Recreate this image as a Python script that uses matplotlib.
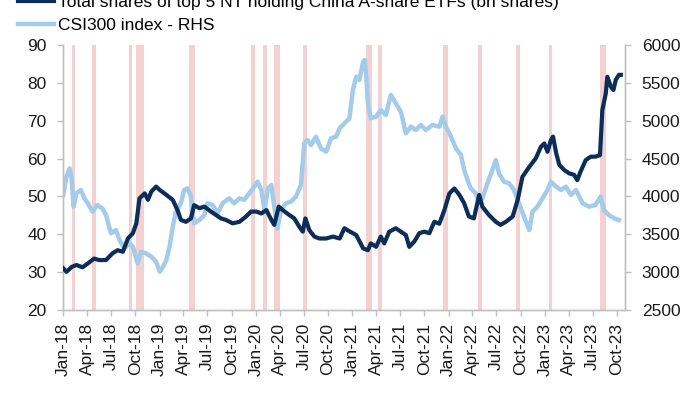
#!/usr/bin/env python3
"""NT-held China A-share ETF shares vs CSI300, with pink event bands."""

import pandas as pd
import matplotlib
matplotlib.use("Agg")
import matplotlib.pyplot as plt
import matplotlib.dates as mdates
from matplotlib.lines import Line2D

# --- data ---
shares_dates = [
    "2018-01-01", "2018-01-13", "2018-02-02", "2018-02-20", "2018-03-15", "2018-04-04",
    "2018-04-28", "2018-05-17", "2018-06-12", "2018-07-07", "2018-07-26", "2018-08-15",
    "2018-09-03", "2018-09-22", "2018-10-05", "2018-10-17", "2018-11-06", "2018-11-18",
    "2018-12-01", "2018-12-19", "2019-01-02", "2019-01-27", "2019-02-20", "2019-03-10",
    "2019-03-23", "2019-04-11", "2019-04-30", "2019-05-12", "2019-06-01", "2019-06-20",
    "2019-07-15", "2019-08-03", "2019-08-22", "2019-09-10", "2019-10-05", "2019-10-31",
    "2019-11-25", "2019-12-14", "2020-01-03", "2020-01-22", "2020-02-10", "2020-02-29",
    "2020-03-11", "2020-03-28", "2020-04-12", "2020-05-07", "2020-05-26", "2020-06-14",
    "2020-06-27", "2020-07-07", "2020-07-22", "2020-08-10", "2020-08-29", "2020-09-24",
    "2020-10-19", "2020-11-14", "2020-12-02", "2020-12-21", "2021-01-16", "2021-02-11",
    "2021-03-01", "2021-03-12", "2021-04-01", "2021-04-19", "2021-05-02", "2021-05-21",
    "2021-06-15", "2021-07-04", "2021-07-23", "2021-08-05", "2021-08-24", "2021-09-12",
    "2021-10-01", "2021-10-20", "2021-11-08", "2021-11-27", "2021-12-16", "2022-01-04",
    "2022-01-23", "2022-02-11", "2022-03-01", "2022-03-19", "2022-04-07", "2022-04-27",
    "2022-05-09", "2022-06-03", "2022-06-29", "2022-07-17", "2022-08-06", "2022-09-01",
    "2022-09-20", "2022-10-08", "2022-11-03", "2022-11-28", "2022-12-17", "2022-12-30",
    "2023-01-11", "2023-01-24", "2023-02-01", "2023-02-13", "2023-02-25", "2023-03-15",
    "2023-04-03", "2023-04-22", "2023-05-04", "2023-05-16", "2023-06-05", "2023-06-24",
    "2023-07-12", "2023-07-29", "2023-08-07", "2023-08-20", "2023-08-26", "2023-09-08",
    "2023-09-18", "2023-09-27", "2023-10-09", "2023-10-16",
]
shares_vals = [
    31.0, 30.1, 31.4, 31.9, 31.3, 32.3,
    33.6, 33.2, 33.2, 35.0, 35.8, 35.4,
    38.9, 40.3, 42.9, 49.5, 50.8, 49.1,
    51.3, 52.6, 51.7, 50.4, 49.1, 46.4,
    43.8, 43.3, 44.2, 47.7, 46.9, 47.3,
    46.0, 45.1, 44.2, 43.8, 42.9, 43.3,
    44.7, 46.0, 46.0, 45.5, 46.4, 43.8,
    42.5, 47.3, 46.4, 45.1, 44.2, 42.0,
    40.7, 44.2, 41.1, 39.4, 38.9, 38.9,
    39.4, 38.9, 41.6, 40.8, 39.8, 36.3,
    35.8, 37.6, 36.7, 39.4, 37.6, 40.7,
    41.6, 40.7, 39.8, 36.7, 38.1, 40.3,
    40.7, 40.3, 43.3, 42.8, 46.4, 50.8,
    52.1, 50.4, 48.2, 44.7, 44.2, 50.4,
    47.3, 45.1, 43.3, 42.5, 43.3, 44.7,
    49.1, 55.2, 57.8, 60.1, 63.1, 64.0,
    61.8, 64.9, 65.8, 61.4, 58.3, 57.0,
    56.1, 55.7, 54.3, 56.5, 59.6, 60.5,
    60.5, 60.9, 72.8, 77.2, 81.6, 79.0,
    78.1, 80.8, 82.1, 82.1,
]

csi_dates = [
    "2018-01-01", "2018-01-13", "2018-01-25", "2018-02-01", "2018-02-09", "2018-02-20",
    "2018-03-09", "2018-03-22", "2018-04-04", "2018-04-22", "2018-05-10", "2018-05-29",
    "2018-06-12", "2018-07-01", "2018-07-20", "2018-08-02", "2018-08-21", "2018-09-09",
    "2018-09-22", "2018-10-10", "2018-10-23", "2018-11-11", "2018-12-01", "2018-12-19",
    "2019-01-02", "2019-01-14", "2019-01-27", "2019-02-08", "2019-02-20", "2019-03-04",
    "2019-03-23", "2019-04-04", "2019-04-17", "2019-04-30", "2019-05-12", "2019-06-01",
    "2019-06-20", "2019-07-02", "2019-07-21", "2019-08-09", "2019-08-28", "2019-09-22",
    "2019-10-11", "2019-10-31", "2019-11-18", "2019-12-07", "2019-12-26", "2020-01-08",
    "2020-01-22", "2020-02-03", "2020-02-16", "2020-02-29", "2020-03-11", "2020-03-23",
    "2020-04-05", "2020-04-24", "2020-05-13", "2020-06-01", "2020-06-20", "2020-07-03",
    "2020-07-15", "2020-07-28", "2020-08-16", "2020-09-04", "2020-09-24", "2020-10-12",
    "2020-10-31", "2020-11-14", "2020-12-02", "2020-12-21", "2021-01-03", "2021-01-16",
    "2021-01-28", "2021-02-11", "2021-02-17", "2021-02-22", "2021-03-01", "2021-03-12",
    "2021-04-01", "2021-04-19", "2021-05-08", "2021-05-27", "2021-06-15", "2021-07-04",
    "2021-07-23", "2021-08-11", "2021-08-30", "2021-09-18", "2021-10-07", "2021-11-01",
    "2021-11-27", "2021-12-09", "2021-12-22", "2022-01-10", "2022-01-29", "2022-02-17",
    "2022-03-01", "2022-03-14", "2022-03-26", "2022-04-14", "2022-04-27", "2022-05-09",
    "2022-05-28", "2022-06-16", "2022-06-29", "2022-07-11", "2022-07-30", "2022-08-18",
    "2022-09-06", "2022-09-25", "2022-10-14", "2022-11-03", "2022-11-15", "2022-12-04",
    "2022-12-23", "2023-01-11", "2023-01-24", "2023-02-13", "2023-03-03", "2023-03-22",
    "2023-04-10", "2023-04-29", "2023-05-24", "2023-06-18", "2023-07-12", "2023-07-31",
    "2023-08-13", "2023-09-01", "2023-09-21", "2023-10-09",
]
csi_vals = [
    4019, 4261, 4371, 4261, 3865, 4041,
    4085, 3975, 3909, 3798, 3887, 3842,
    3754, 3512, 3556, 3424, 3314, 3380,
    3336, 3116, 3270, 3248, 3204, 3138,
    3006, 3072, 3160, 3336, 3600, 3798,
    3909, 4085, 4107, 3997, 3644, 3688,
    3754, 3909, 3887, 3777, 3909, 3975,
    3909, 3975, 3953, 4041, 4129, 4195,
    4085, 3820, 4107, 4151, 3865, 3578,
    3820, 3909, 3931, 3997, 4151, 4701,
    4745, 4679, 4789, 4635, 4591, 4767,
    4789, 4899, 4965, 5031, 5405, 5581,
    5537, 5780, 5802, 5626, 5229, 5031,
    5053, 5141, 5075, 5340, 5229, 5119,
    4833, 4921, 4877, 4943, 4877, 4943,
    4921, 5053, 4921, 4789, 4635, 4547,
    4349, 4217, 4107, 4041, 3909, 3975,
    4173, 4349, 4481, 4305, 4195, 4173,
    4085, 3909, 3733, 3556, 3798, 3865,
    3975, 4085, 4195, 4129, 4085, 4129,
    4019, 4085, 3909, 3865, 3887, 3997,
    3820, 3754, 3710, 3688,
]

band_starts = [
    "2018-02-02", "2018-04-20", "2018-09-06", "2018-10-03", "2019-04-23",
    "2019-12-13", "2020-01-30", "2020-03-11", "2020-06-29", "2021-02-21",
    "2021-04-10", "2021-12-10", "2022-04-24", "2022-09-13", "2023-01-16",
    "2023-07-30",
]
band_ends = [
    "2018-02-14", "2018-05-05", "2018-09-20", "2018-11-03", "2019-05-15",
    "2019-12-29", "2020-02-12", "2020-04-02", "2020-07-15", "2021-03-16",
    "2021-04-23", "2021-12-29", "2022-05-07", "2022-09-27", "2023-01-28",
    "2023-08-22",
]

DARK = "#0B2D57"
LIGHT = "#A3CBEA"
PINK = "#F5D0D0"
AXIS = "#BFBFBF"


def main():
    plt.rcParams["font.family"] = ["Liberation Sans", "DejaVu Sans"]
    plt.rcParams["font.size"] = 12

    fig = plt.figure(figsize=(7, 3.94), dpi=100)
    ax = fig.add_axes([0.0904, 0.213, 0.8025, 0.673])
    ax2 = ax.twinx()

    # bands + CSI on the lower (twin) axes, shares on top
    ax.set_zorder(ax2.get_zorder() + 1)
    ax.patch.set_visible(False)

    for s, e in zip(band_starts, band_ends):
        ax2.axvspan(pd.Timestamp(s), pd.Timestamp(e), color=PINK, lw=0, zorder=0)

    ax2.plot(pd.to_datetime(csi_dates), csi_vals, color=LIGHT, lw=3.2,
             solid_joinstyle="round", zorder=2)
    ax.plot(pd.to_datetime(shares_dates), shares_vals, color=DARK, lw=3.0,
            solid_joinstyle="round", zorder=3)

    ax.set_xlim(pd.Timestamp("2018-01-01"), pd.Timestamp("2023-11-01"))
    ax.set_ylim(20, 90)
    ax2.set_ylim(2500, 6000)
    ax.set_yticks(range(20, 91, 10))
    ax2.set_yticks(range(2500, 6001, 500))

    ax.xaxis.set_major_locator(mdates.MonthLocator(bymonth=[1, 4, 7, 10]))
    ax.xaxis.set_major_formatter(mdates.DateFormatter("%b-%y"))
    for lab in ax.get_xticklabels():
        lab.set_rotation(90)

    for a in (ax, ax2):
        a.spines["top"].set_visible(False)
        for side in ("left", "right", "bottom"):
            a.spines[side].set_color(AXIS)
            a.spines[side].set_linewidth(1.0)
        a.tick_params(colors=AXIS, labelcolor="#1A1A1A", length=4, width=1.0,
                      labelsize=12.5)
    ax.tick_params(axis="y", pad=8)
    ax2.tick_params(axis="y", pad=8)
    ax.tick_params(axis="x", pad=5)

    # legend sits at the very top, first entry partly clipped as in the source
    handles = [Line2D([], [], color=DARK, lw=3.0), Line2D([], [], color=LIGHT, lw=3.2)]
    labels = ["Total shares of top 5 NT holding China A-share ETFs (bn shares)",
              "CSI300 index - RHS"]
    fig.legend(handles, labels, loc="upper left", bbox_to_anchor=(0.025, 1.012),
               frameon=False, fontsize=12.5, handlelength=2.1, handletextpad=0.25,
               labelspacing=0.45, borderaxespad=0, borderpad=0)

    fig.savefig("out.png", dpi=100)


if __name__ == "__main__":
    main()
